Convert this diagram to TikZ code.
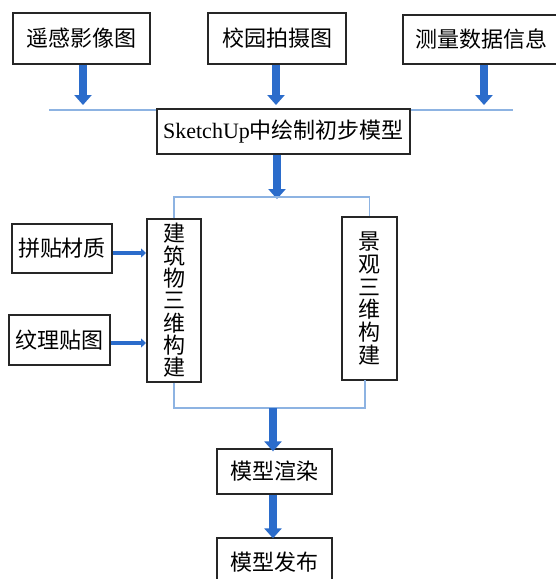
\documentclass[tikz,border=0pt]{standalone}
\usepackage{fontspec}
\setmainfont{Liberation Serif}
\newfontfamily\cjk{Noto Sans CJK SC}
\usetikzlibrary{arrows.meta}
\definecolor{arrowblue}{HTML}{2B6CCB}
\definecolor{linkblue}{HTML}{8DB3E2}
\begin{document}
\begin{tikzpicture}[x=1pt,y=-1pt,
  box/.style={draw=black!85, line width=1.3pt, fill=white, inner sep=0pt, font=\cjk\fontsize{22}{25}\selectfont},
  vbox/.style={box, align=center},
  barrow/.style={line width=8pt, draw=arrowblue, -{Triangle[width=17pt,length=10pt]}},
  sarrow/.style={line width=4.5pt, draw=arrowblue, -{Triangle[width=9pt,length=5pt]}},
  thinline/.style={draw=linkblue, line width=1.3pt}
]
\fill[white] (0,0) rectangle (555,579);
\useasboundingbox (0,0) rectangle (555,579);

% input line
\coordinate (lineL) at (49,110);
\coordinate (lineR) at (513,110);
\draw[thinline] (lineL) -- (lineR);

% top boxes
\node[box, minimum width=137pt, minimum height=51pt] (rs) at (81.5,38.5) {遥感影像图};
\node[box, minimum width=138pt, minimum height=51pt] (ph) at (277,38.5) {校园拍摄图};
\node[box, minimum width=156pt, minimum height=49pt] (ms) at (481,39.5) {测量数据信息};

\coordinate (t1) at (83,105);
\coordinate (t2) at (276,105);
\coordinate (t3) at (484,105);
\draw[barrow] (t1 |- rs.south) -- (t1);
\draw[barrow] (t2 |- ph.south) -- (t2);
\draw[barrow] (t3 |- ms.south) -- (t3);

% SketchUp box
\node[box, minimum width=253pt, minimum height=45pt] (sk) at (283.5,131.5) {{\rmfamily SketchUp}中绘制初步模型};

% branch
\coordinate (jt) at (277,197);
\draw[barrow] (jt |- sk.south) -- ([yshift=-2pt]jt);

\node[vbox, minimum width=54pt, minimum height=163pt, font=\cjk\fontsize{22}{22.3}\selectfont] (bld) at (174,300.5) {建\\筑\\物\\三\\维\\构\\建};
\node[vbox, minimum width=55pt, minimum height=163pt, font=\cjk\fontsize{22}{22.8}\selectfont] (lsc) at (369.5,298.5) {景\\观\\三\\维\\构\\建};

\draw[thinline] (bld.north) |- (jt) -| (lsc.north);

% left inputs
\node[box, minimum width=100pt, minimum height=49pt] (tile) at (62,248.5) {拼贴材质};
\node[box, minimum width=101pt, minimum height=50pt] (tex) at (59.5,340) {纹理贴图};
\coordinate (h1) at (146,253);
\coordinate (h2) at (146,343);
\draw[sarrow] (h1 -| tile.east) -- (h1);
\draw[sarrow] (h2 -| tex.east) -- (h2);

% merge
\coordinate (jb) at (273,408);
\coordinate (lscb) at (365,380);
\draw[thinline] (bld.south) |- (jb) -| (lscb);

\node[box, minimum width=115pt, minimum height=45pt] (rend) at (274.5,471.5) {模型渲染};
\node[box, minimum width=115pt, minimum height=48pt] (pub) at (274.5,562) {模型发布};

\draw[barrow] (jb) -- ([yshift=-3pt]jb |- rend.north);
\draw[barrow] (jb |- rend.south) -- ([yshift=-1pt]jb |- pub.north);
\end{tikzpicture}
\end{document}
